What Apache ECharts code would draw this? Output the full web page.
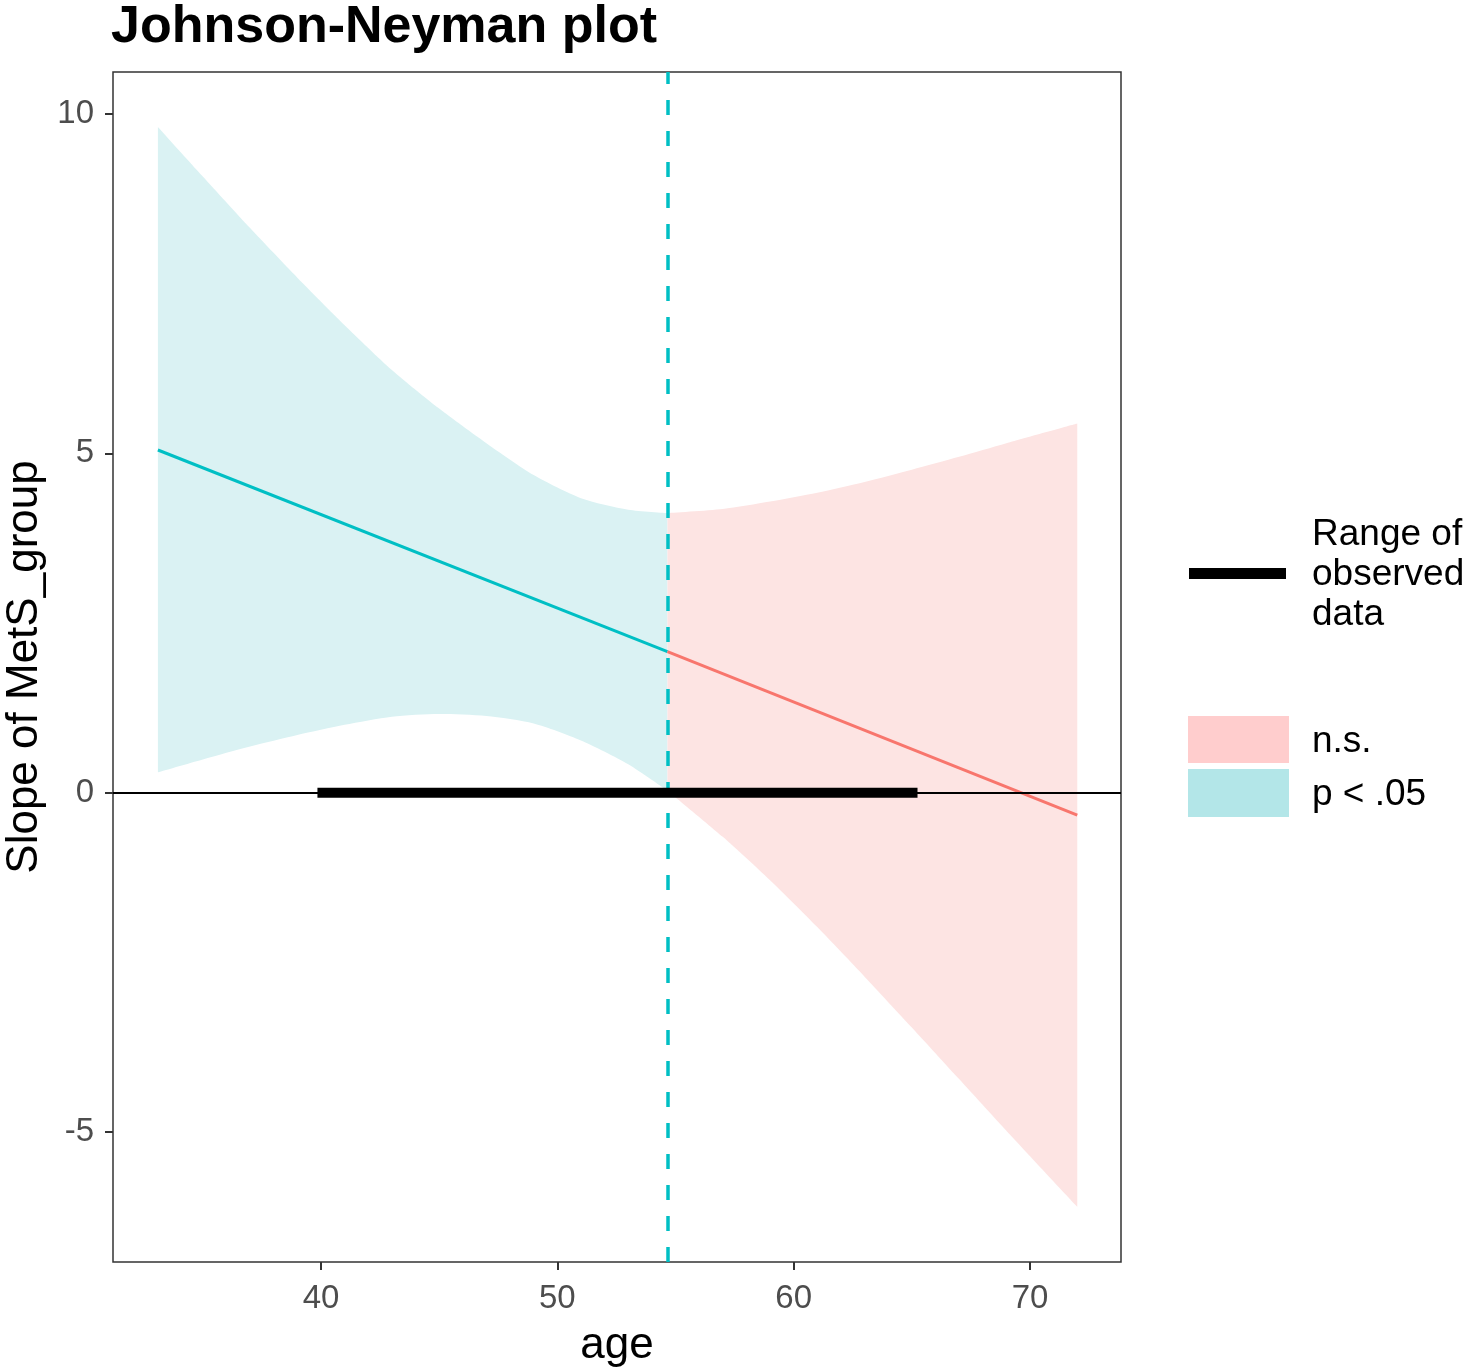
<!DOCTYPE html>
<html>
<head>
<meta charset="utf-8">
<script src="https://cdn.jsdelivr.net/npm/echarts@6/dist/echarts.min.js"></script>
<style>
html,body{margin:0;padding:0;background:#fff;}
#chart{width:1469px;height:1370px;}
</style>
</head>
<body>
<div id="chart"></div>
<script>
// ---- Data ----
const xTicks = [40, 50, 60, 70];
const yTicks = [-5, 0, 5, 10];

// significant region (p < .05): ages, CI upper, CI lower
const sigAges  = [33.1, 35, 37, 39, 41, 43, 45, 47, 49, 51, 53, 54.66];
const sigUpper = [9.81, 9.08, 8.32, 7.59, 6.89, 6.23, 5.66, 5.15, 4.68, 4.34, 4.17, 4.12];
const sigLower = [0.30, 0.49, 0.68, 0.85, 1.00, 1.12, 1.16, 1.13, 1.02, 0.77, 0.42, 0.03];

// non-significant region (n.s.)
const nsAges  = [54.66, 57, 59, 61, 63, 65, 67, 69, 72];
const nsUpper = [4.12, 4.18, 4.29, 4.42, 4.58, 4.76, 4.95, 5.15, 5.44];
const nsLower = [0.03, -0.65, -1.29, -1.98, -2.71, -3.46, -4.22, -4.98, -6.10];

// conditional slope line
const sigLineAges = [33.1, 54.66];
const sigLineVals = [5.05, 2.08];
const nsLineAges  = [54.66, 72];
const nsLineVals  = [2.08, -0.33];

const jnPoint = 54.66;
const observedRange = [39.85, 65.24];

// ---- Styles ----
const FONT = "'Liberation Sans', Arial, Helvetica, sans-serif";
const TEAL = '#00BFC4', RED = '#F8766D';
const TEAL_BAND = '#DAF2F3', RED_BAND = '#FDE4E3';

// rows are [value, age] so that the stacked dimension is the value (y) dimension
function rows(xs, ys) { return xs.map((x, i) => [ys[i], x]); }
function diffRows(xs, up, lo) { return xs.map((x, i) => [+(up[i] - lo[i]).toFixed(4), x]); }

function bandBase(stack, ages, lower) {
  return {
    type: 'line', stack: stack, stackStrategy: 'all',
    data: rows(ages, lower), encode: { x: 1, y: 0 },
    smooth: 0.25, symbol: 'none',
    lineStyle: { opacity: 0, width: 0 }, silent: true, z: 1
  };
}
function bandTop(name, stack, ages, upper, lower, color) {
  return {
    name: name, type: 'line', stack: stack, stackStrategy: 'all',
    data: diffRows(ages, upper, lower), encode: { x: 1, y: 0 },
    smooth: 0.25, symbol: 'none',
    lineStyle: { opacity: 0, width: 0 },
    areaStyle: { color: color, opacity: 1 }, silent: true, z: 1
  };
}
function pairs(xs, ys) { return xs.map((x, i) => [x, ys[i]]); }

const chart = echarts.init(document.getElementById('chart'), null, { renderer: 'canvas' });

const option = {
  animation: false,
  backgroundColor: '#fff',
  title: {
    text: 'Johnson-Neyman plot',
    left: 111, top: 2, padding: 0,
    textStyle: { fontFamily: FONT, fontSize: 52, fontWeight: 'bold', color: '#000' }
  },
  grid: {
    left: 113, top: 72, width: 1008, height: 1190,
    outerBoundsMode: 'none', containLabel: false,
    show: true, borderColor: '#333', borderWidth: 1.5, backgroundColor: 'transparent'
  },
  xAxis: {
    type: 'value', min: 31.2, max: 73.85,
    name: 'age', nameLocation: 'middle', nameGap: 62,
    nameTextStyle: { fontFamily: FONT, fontSize: 44, color: '#000' },
    axisLine: { show: false, onZero: false },
    splitLine: { show: false },
    axisTick: { show: true, customValues: xTicks, length: 8, lineStyle: { color: '#333', width: 2 } },
    axisLabel: { customValues: xTicks, fontFamily: FONT, fontSize: 33, color: '#4D4D4D', margin: 20 }
  },
  yAxis: {
    type: 'value', min: -6.915, max: 10.62,
    name: 'Slope of MetS_group', nameLocation: 'middle', nameGap: 59, nameRotate: 90,
    nameTextStyle: { fontFamily: FONT, fontSize: 44, color: '#000' },
    axisLine: { show: false, onZero: false },
    splitLine: { show: false },
    axisTick: { show: true, customValues: yTicks, length: 8, lineStyle: { color: '#333', width: 2 } },
    axisLabel: { customValues: yTicks, fontFamily: FONT, fontSize: 33, color: '#4D4D4D', margin: 19 }
  },
  series: [
    bandBase('sig', sigAges, sigLower),
    bandTop('p < .05', 'sig', sigAges, sigUpper, sigLower, TEAL_BAND),
    bandBase('ns', nsAges, nsLower),
    bandTop('n.s.', 'ns', nsAges, nsUpper, nsLower, RED_BAND),
    {
      type: 'line', data: pairs(sigLineAges, sigLineVals), symbol: 'none',
      lineStyle: { color: TEAL, width: 3 }, silent: true, z: 3
    },
    {
      type: 'line', data: pairs(nsLineAges, nsLineVals), symbol: 'none',
      lineStyle: { color: RED, width: 3 }, silent: true, z: 3
    },
    {
      type: 'line', data: [], silent: true, z: 4,
      markLine: {
        silent: true, symbol: ['none', 'none'], label: { show: false },
        lineStyle: { color: '#000', width: 2, type: 'solid' },
        data: [{ yAxis: 0 }], animation: false
      }
    },
    {
      name: 'Range of observed data',
      type: 'line', data: [[observedRange[0], 0], [observedRange[1], 0]], symbol: 'none',
      lineStyle: { color: '#000', width: 10, cap: 'butt' }, silent: true, z: 5
    },
    {
      type: 'line', data: [], silent: true, z: 6,
      markLine: {
        silent: true, symbol: ['none', 'none'], label: { show: false },
        lineStyle: { color: TEAL, width: 3.5, type: [15, 16] },
        data: [{ xAxis: jnPoint }], animation: false
      }
    }
  ],
  graphic: [
    { type: 'rect', left: 1189, top: 568, shape: { width: 97, height: 11 }, style: { fill: '#000' } },
    { type: 'text', left: 1312, top: 575 - 60,
      style: { text: 'Range of\nobserved\ndata', font: '37px ' + FONT, fill: '#000', lineHeight: 40 } },
    { type: 'rect', left: 1188, top: 716, shape: { width: 101, height: 47 }, style: { fill: '#FFCDCD' } },
    { type: 'text', left: 1312, top: 742 - 20,
      style: { text: 'n.s.', font: '37px ' + FONT, fill: '#000', lineHeight: 40 } },
    { type: 'rect', left: 1188, top: 769, shape: { width: 101, height: 48 }, style: { fill: '#B3E6E8' } },
    { type: 'text', left: 1312, top: 795 - 20,
      style: { text: 'p < .05', font: '37px ' + FONT, fill: '#000', lineHeight: 40 } }
  ]
};
chart.setOption(option);
</script>
</body>
</html>
